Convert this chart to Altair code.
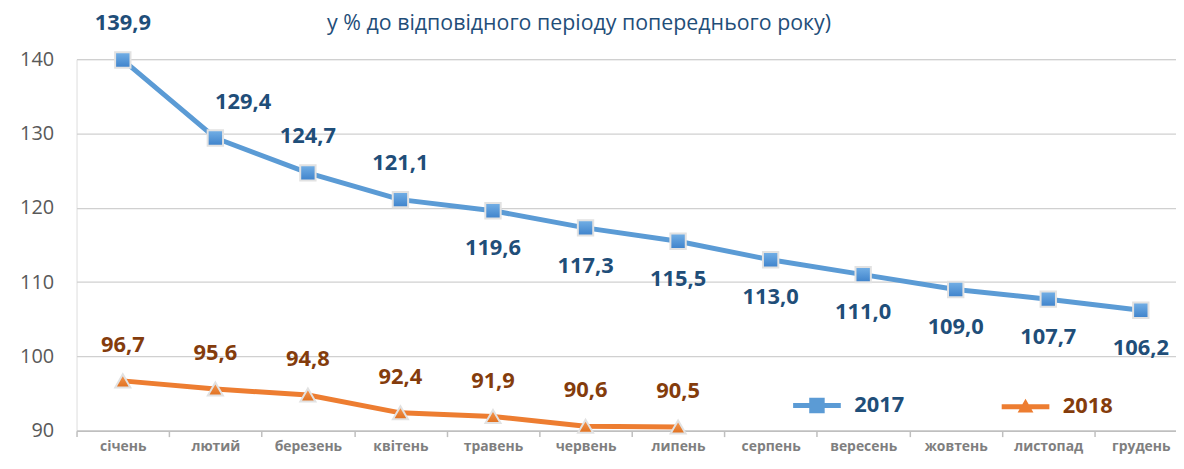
import json
import altair as alt
import pandas as pd

months = ["січень", "лютий", "березень", "квітень", "травень", "червень",
          "липень", "серпень", "вересень", "жовтень", "листопад", "грудень"]
v2017 = [139.9, 129.4, 124.7, 121.1, 119.6, 117.3, 115.5, 113.0, 111.0, 109.0, 107.7, 106.2]
v2018 = [96.7, 95.6, 94.8, 92.4, 91.9, 90.6, 90.5]
series = ["2017", "2018"]
y_ticks = [90, 100, 110, 120, 130, 140]
title_text = "у % до відповідного періоду попереднього року)"

rows = []
for i, v in enumerate(v2017):
    rows.append(dict(i=i, month=months[i], series="2017", value=v))
for i, v in enumerate(v2018):
    rows.append(dict(i=i, month=months[i], series="2018", value=v))
df = pd.DataFrame(rows)
df["label"] = df["value"].map(lambda v: f"{v:.1f}".replace(".", ","))
title_df = pd.DataFrame({"t": [title_text]})

BLUE = "#5B9BD5"
ORANGE = "#ED7D31"
DBLUE = "#1F4E79"
BROWN = "#843C0C"
FONT = "Open Sans"

W, H = 1107, 374
n = len(months)
band = 93.18
xmax = -0.5 + W / band

x_enc = alt.X(
    "i:Q",
    scale=alt.Scale(domain=[-0.5, xmax], nice=False, zero=False),
    axis=alt.Axis(
        title=None,
        values=[k - 0.5 for k in range(n)],
        labelExpr=json.dumps(months, ensure_ascii=False) + "[floor(datum.value + 0.5)]",
        labelOffset=band / 2,
        labelFlush=False,
        labelOverlap=False,
        labelBound=False,
        grid=False,
        domainColor="#BFBFBF",
        domainWidth=1.5,
        tickColor="#BFBFBF",
        tickWidth=1.5,
        tickSize=6,
        labelPadding=3,
        labelFont=FONT,
        labelFontSize=14,
        labelFontWeight="bold",
        labelColor="#7F7F7F",
    ),
)
y_enc = alt.Y(
    "value:Q",
    scale=alt.Scale(domain=[90, 140], nice=False, zero=False),
    axis=alt.Axis(
        title=None,
        values=y_ticks,
        grid=True,
        gridColor="#D0D0D0",
        gridWidth=1.2,
        domain=False,
        ticks=False,
        labelPadding=23,
        labelFont=FONT,
        labelFontSize=20,
        labelColor="#595959",
    ),
)

sq_path = ("M-1.5,0L1.5,0"
           "M-0.33,-0.33L0.33,-0.33L0.33,0.33L-0.33,0.33Z"
           "M-0.33,-0.11L0.33,-0.11M-0.33,0.11L0.33,0.11")
tri_path = ("M-1.5,0.04L1.5,0.04"
            "M0,-0.14L0.2275,0.257L-0.2275,0.257Z")

base = alt.Chart(df)

line = base.mark_line(strokeWidth=5, strokeJoin="round", strokeCap="round").encode(
    x=x_enc,
    y=y_enc,
    color=alt.Color(
        "series:N",
        scale=alt.Scale(domain=series, range=[BLUE, ORANGE]),
        legend=alt.Legend(
            title=None,
            orient="none",
            legendX=727,
            legendY=330,
            direction="horizontal",
            columns=2,
            columnPadding=87,
            padding=0,
            symbolType=alt.ExprRef(
                f"datum.label == '2017' ? '{sq_path}' : '{tri_path}'"),
            symbolSize=1024,
            symbolStrokeWidth=5,
            labelOffset=19,
            labelFont=FONT,
            labelFontSize=22,
            labelFontWeight="bold",
            labelColor=alt.ExprRef(
                f"datum.label == '2017' ? '{DBLUE}' : '{BROWN}'"),
        ),
    ),
    detail="series:N",
)

grad_blue = alt.LinearGradient(
    gradient="linear",
    stops=[alt.GradientStop(color="#74B0E6", offset=0),
           alt.GradientStop(color="#3E82CB", offset=1)],
    x1=0, x2=0, y1=0, y2=1)
grad_orange = alt.LinearGradient(
    gradient="linear",
    stops=[alt.GradientStop(color="#F59A55", offset=0),
           alt.GradientStop(color="#E0701F", offset=1)],
    x1=0, x2=0, y1=0, y2=1)

pts17 = base.transform_filter("datum.series == '2017'").mark_point(
    shape="square", filled=True, size=240, fill=grad_blue, stroke="#E2E2E2",
    strokeWidth=2, opacity=1).encode(x="i:Q", y="value:Q")
pts18 = base.transform_filter("datum.series == '2018'").mark_point(
    shape="triangle-up", filled=True, size=230, fill=grad_orange, stroke="#E2E2E2",
    strokeWidth=2, opacity=1).encode(x="i:Q", y="value:Q")

txt_kw = dict(font=FONT, fontSize=22, fontWeight="bold", baseline="middle", align="center")
t17a = base.transform_filter("datum.series == '2017' && datum.i < 4 && datum.i != 1").mark_text(
    dy=-37, color=DBLUE, **txt_kw).encode(x="i:Q", y="value:Q", text="label:N")
t17b = base.transform_filter("datum.series == '2017' && datum.i == 1").mark_text(
    dx=28, dy=-36, color=DBLUE, **txt_kw).encode(x="i:Q", y="value:Q", text="label:N")
t17c = base.transform_filter("datum.series == '2017' && datum.i >= 4").mark_text(
    dy=38, color=DBLUE, **txt_kw).encode(x="i:Q", y="value:Q", text="label:N")
t18 = base.transform_filter("datum.series == '2018'").mark_text(
    dy=-36, color=BROWN, **txt_kw).encode(x="i:Q", y="value:Q", text="label:N")

title = alt.Chart(title_df).mark_text(
    font=FONT, fontSize=21.5, color=DBLUE, align="center", baseline="middle"
).encode(x=alt.value(506), y=alt.value(-35), text="t:N")

chart = alt.layer(line, pts17, pts18, t17a, t17b, t17c, t18, title).properties(
    width=W,
    height=H,
    autosize=alt.AutoSizeParams(type="none"),
    padding={"left": 69, "top": 50, "right": 0, "bottom": 29},
).configure_view(stroke=None).configure(background="white")

chart.save("out.html", embed_options={"renderer": "svg", "actions": False})
